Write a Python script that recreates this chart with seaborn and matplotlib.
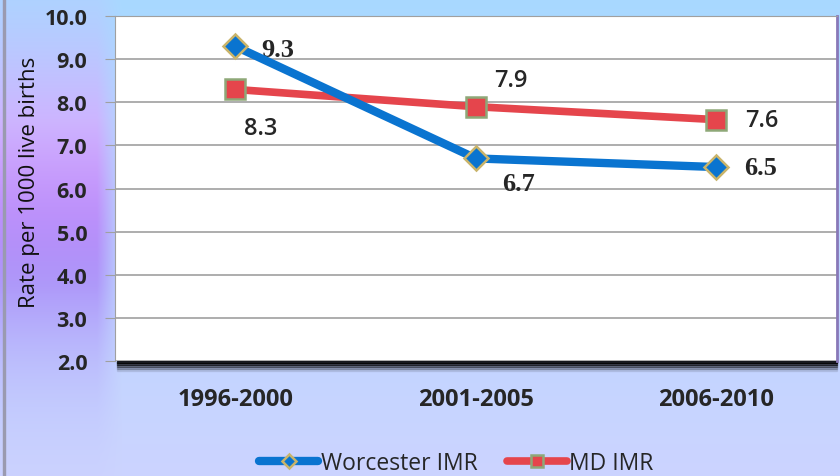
import numpy as np
import pandas as pd
import matplotlib.pyplot as plt
import seaborn as sns
from matplotlib.patches import Rectangle

# chart data
periods = ['1996-2000', '2001-2005', '2006-2010']
worcester_imr = [9.3, 6.7, 6.5]
md_imr = [8.3, 7.9, 7.6]

df = pd.DataFrame({'Period': periods * 2,
                   'Rate': worcester_imr + md_imr,
                   'Series': ['Worcester IMR'] * 3 + ['MD IMR'] * 3})

sns.set_style('white')
plt.rcParams['font.family'] = ['Open Sans', 'DejaVu Sans']

fig = plt.figure(figsize=(8.4, 4.77), dpi=100)

# light blue / purple gradient background
h, w = 477, 840
yy, xx = np.mgrid[0:h, 0:w] / np.array([h, w])[:, None, None]
bg = np.zeros((h, w, 3))
bg[..., 0] = 0.66 + 0.14 * yy
bg[..., 1] = 0.85 - 0.02 * yy
bg[..., 2] = 1.0
left = np.clip((0.145 - xx) / 0.03, 0, 1) * np.exp(-((yy - 0.42) / 0.30) ** 2)
top_purple = np.array([0.84, 0.66, 1.0])
low_purple = np.array([0.66, 0.50, 0.97])
mix = np.clip((yy - 0.25) / 0.35, 0, 1)[..., None]
purple = top_purple * (1 - mix) + low_purple * mix
bg = bg * (1 - left[..., None]) + purple * left[..., None]
bgax = fig.add_axes([0, 0, 1, 1], zorder=-10)
bgax.imshow(bg, aspect='auto', extent=[0, 1, 0, 1])
bgax.axis('off')
fig.patches.append(Rectangle((0.004, 0), 0.002, 1, transform=fig.transFigure,
                             color='#9a9ab0', zorder=-5))

ax = fig.add_axes([0.137, 0.241, 0.859, 0.723])
ax.set_facecolor('white')

# drop shadow under plot area
for i, a in enumerate([0.8, 0.55, 0.35, 0.2, 0.08]):
    fig.patches.append(Rectangle((0.139, 0.241 - 0.004 * (i + 1)), 0.857, 0.004,
                                 transform=fig.transFigure, color='black', alpha=a, zorder=-1))

blue = '#0a74d0'
red = '#e5454c'
sns.lineplot(data=df[df.Series == 'Worcester IMR'], x='Period', y='Rate', ax=ax,
             color=blue, lw=6, marker='D', markersize=12, markerfacecolor=blue,
             markeredgecolor='#c9b46a', markeredgewidth=1.8, label='Worcester IMR',
             solid_capstyle='round', zorder=4)
sns.lineplot(data=df[df.Series == 'MD IMR'], x='Period', y='Rate', ax=ax,
             color=red, lw=5.5, marker='s', markersize=15, markerfacecolor=red,
             markeredgecolor='#8ea878', markeredgewidth=1.8, label='MD IMR',
             solid_capstyle='round', zorder=3)

# data labels
w_off = [(19, -2), (19, -18), (20, 0)]
for i, v in enumerate(worcester_imr):
    ax.annotate(f'{v:.1f}', (i, v), xytext=w_off[i], textcoords='offset points',
                ha='left', va='center', fontsize=19, fontweight='bold',
                family='Liberation Serif')
m_off = [(18, -28), (13, 19), (21, 0)]
for i, v in enumerate(md_imr):
    ax.annotate(f'{v:.1f}', (i, v), xytext=m_off[i], textcoords='offset points',
                ha='left' if i else 'center', va='center', fontsize=17,
                fontweight='semibold')

ax.set_xlim(-0.5, 2.5)
ax.set_ylim(2, 10)
ax.set_yticks(np.arange(2, 10.5, 1))
ax.set_yticklabels([f'{t:.1f}' for t in np.arange(2, 10.5, 1)])
ax.grid(axis='y', color='#a0a0a0', lw=1.2)
ax.set_axisbelow(True)
ax.tick_params(axis='y', left=True, length=7, color='#a0a0a0', pad=13)
ax.tick_params(axis='x', bottom=False, pad=15)
for lab in ax.get_yticklabels():
    lab.set_fontweight('bold')
    lab.set_fontsize(15.5)
for lab in ax.get_xticklabels():
    lab.set_fontweight('bold')
    lab.set_fontsize(17)
ax.set_xlabel('')
ax.set_ylabel('Rate per 1000 live births', fontsize=16, color='#111111')
ax.yaxis.set_label_coords(-0.104, 0.52)
for s in ['left', 'top']:
    ax.spines[s].set_color('#a0a0a0')
ax.spines['bottom'].set_visible(False)
ax.spines['right'].set_color('#8878b8')
ax.spines['right'].set_linewidth(2)

ax.legend(loc='center', bbox_to_anchor=(0.543, 0.028), bbox_transform=fig.transFigure,
          ncol=2, frameon=False, fontsize=16.5, handlelength=2.6, handletextpad=0.1,
          columnspacing=1.3, markerscale=0.6)

fig.savefig('out.png', dpi=100)
